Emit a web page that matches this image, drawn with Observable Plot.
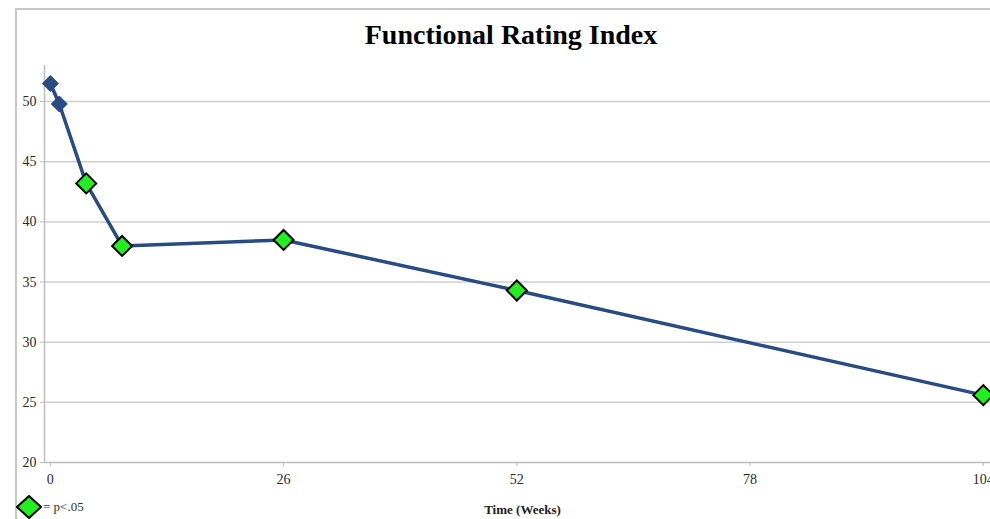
<!DOCTYPE html>
<html>
<head>
<meta charset="utf-8">
<script src="https://cdn.jsdelivr.net/npm/d3@7"></script>
<script src="https://cdn.jsdelivr.net/npm/@observablehq/plot@0.6"></script>
<style>
  html, body { margin: 0; padding: 0; background: #fff; }
  #wrap { position: relative; width: 990px; height: 519px; overflow: hidden; font-family: "Liberation Serif", "DejaVu Serif", serif; }
  #frame { position: absolute; left: 15px; top: 8px; width: 1000px; height: 560px; border: 2px solid #c8c8c8; box-sizing: border-box; }
  #title { position: absolute; left: 0; width: 1022px; top: 19px; text-align: center; font-weight: bold; font-size: 28px; color: #000; }
  #xtitle { position: absolute; left: 0; width: 1045px; top: 502px; text-align: center; font-weight: bold; font-size: 13px; color: #222; }
  #legend { position: absolute; left: 16px; top: 495px; display: flex; align-items: center; font-size: 13px; color: #333; }
  #chart { position: absolute; left: 0; top: 0; }
</style>
</head>
<body>
<div id="wrap">
  <div id="frame"></div>
  <div id="chart"></div>
  <div id="title">Functional Rating Index</div>
  <div id="xtitle">Time (Weeks)</div>
  <div id="legend"><svg width="26" height="24"><path d="M13,1 L25,12 L13,23 L1,12 Z" fill="#22ee22" stroke="#000" stroke-width="2"/></svg><span style="margin-left:1px">= p&lt;.05</span></div>
</div>
<script>
const weeks = [0, 1, 4, 8, 26, 52, 104];
const fri = [51.5, 49.8, 43.2, 38.0, 38.5, 34.3, 25.6];
const significant = [false, false, true, true, true, true, true];
const xTicks = [0, 26, 52, 78, 104];
const yTicks = [20, 25, 30, 35, 40, 45, 50];

const data = weeks.map((w, i) => ({week: w, value: fri[i], sig: significant[i]}));
const diamond = {
  draw(context, size) {
    const r = Math.sqrt(size / Math.PI);
    context.moveTo(0, -r);
    context.lineTo(r, 0);
    context.lineTo(0, r);
    context.lineTo(-r, 0);
    context.closePath();
  }
};

const chart = Plot.plot({
  width: 990,
  height: 519,
  marginLeft: 44,
  marginRight: 0,
  marginTop: 65,
  marginBottom: 57,
  style: {fontFamily: "Liberation Serif, serif", fontSize: "13px", color: "#333", background: "transparent"},
  x: {domain: [-0.65, 104.8], ticks: xTicks, label: null},
  y: {domain: [20, 53], ticks: yTicks, label: null},
  marks: [
    Plot.gridY(yTicks.filter(t => t > 20), {stroke: "#cfcfcf", strokeOpacity: 1, strokeWidth: 1.5}),
    Plot.ruleY([20], {stroke: "#bdbdbd", strokeWidth: 1.5}),
    Plot.ruleX([-0.65], {y1: 20, y2: 53, stroke: "#bdbdbd", strokeWidth: 1.5}),
    Plot.axisX({ticks: xTicks, tickSize: 4, stroke: "#bdbdbd", fill: "#2a2a2a", fontSize: 14, tickPadding: 8}),
    Plot.axisY({ticks: yTicks, tickSize: 4, stroke: "#bdbdbd", fill: "#2a2a2a", fontSize: 14, tickPadding: 4}),
    Plot.line(data, {x: "week", y: "value", stroke: "#274b82", strokeWidth: 3.5}),
    Plot.dot(data.filter(d => !d.sig), {x: "week", y: "value", symbol: diamond, r: 8, fill: "#274b82", stroke: "#274b82", strokeWidth: 1}),
    Plot.dot(data.filter(d => d.sig), {x: "week", y: "value", symbol: diamond, r: 10, fill: "#22ee22", stroke: "#000", strokeWidth: 2})
  ]
});
document.getElementById("chart").appendChild(chart);
</script>
</body>
</html>
